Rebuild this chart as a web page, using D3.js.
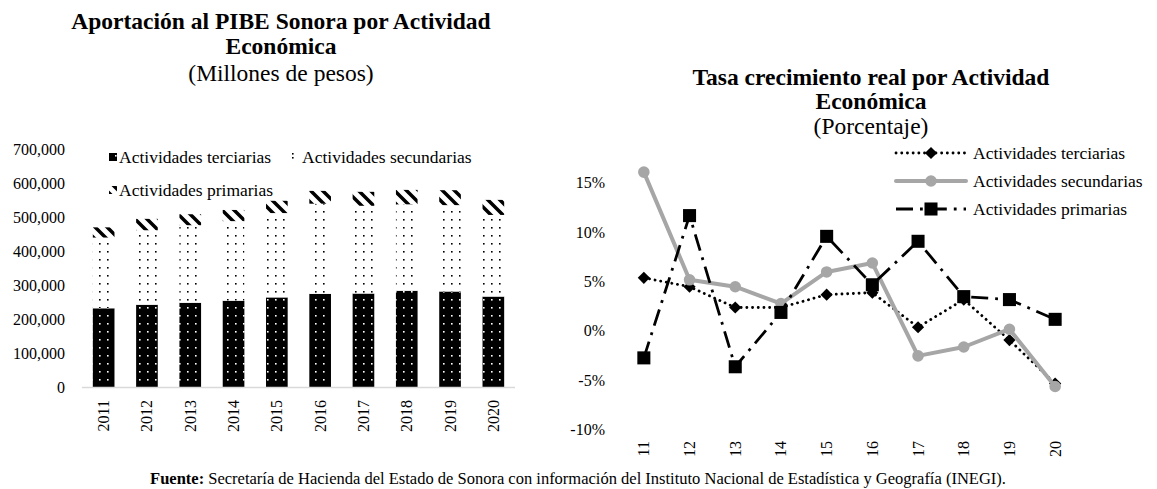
<!DOCTYPE html>
<html><head><meta charset="utf-8">
<script src="https://cdn.jsdelivr.net/npm/d3@7"></script>
<style>
body{margin:0;background:#fff;}
svg{font-family:"Liberation Serif","Times New Roman",serif;}
</style></head>
<body><svg id="c" width="1157" height="489"></svg>
<script>
// ---- data ----
const years = ["2011","2012","2013","2014","2015","2016","2017","2018","2019","2020"];
const terciarias  = [233000, 243500, 249300, 255300, 265000, 275600, 276400, 284700, 282400, 267500];
const secundarias = [208000, 219000, 228000, 234000, 248000, 265000, 258000, 254000, 254000, 240000];
const primarias   = [30000, 33500, 32300, 32900, 36100, 37700, 41100, 42500, 43900, 44300];
const leftTicks = [0,100000,200000,300000,400000,500000,600000,700000];

const shortYears = ["11","12","13","14","15","16","17","18","19","20"];
const gTerciarias  = [5.4, 4.5, 2.4, 2.4, 3.7, 3.9, 0.4, 3.2, -0.9, -5.3];
const gSecundarias = [16.1, 5.2, 4.5, 2.8, 6.0, 6.9, -2.5, -1.6, 0.2, -5.6];
const gPrimarias   = [-2.7, 11.7, -3.6, 1.9, 9.6, 4.7, 9.1, 3.5, 3.2, 1.2];
const rightTicks = [-10,-5,0,5,10,15];

const svg = d3.select("#c");
const defs = svg.append("defs");

// patterns
const pT = defs.append("pattern").attr("id","pT").attr("patternUnits","userSpaceOnUse").attr("width",8).attr("height",8);
pT.append("rect").attr("width",8).attr("height",8).attr("fill","#000");
pT.append("rect").attr("x",3).attr("y",3).attr("width",1.6).attr("height",1.6).attr("fill","#fff");
const pS = defs.append("pattern").attr("id","pS").attr("patternUnits","userSpaceOnUse").attr("width",8).attr("height",8);
pS.append("rect").attr("width",8).attr("height",8).attr("fill","#fff");
pS.append("rect").attr("x",3).attr("y",3).attr("width",1.6).attr("height",1.6).attr("fill","#000");
const pSl = defs.append("pattern").attr("id","pSl").attr("patternUnits","userSpaceOnUse").attr("width",8).attr("height",4);
pSl.append("rect").attr("width",8).attr("height",4).attr("fill","#fff");
pSl.append("rect").attr("x",4).attr("y",1).attr("width",1.6).attr("height",1.6).attr("fill","#000");
const pP = defs.append("pattern").attr("id","pP").attr("patternUnits","userSpaceOnUse").attr("width",12).attr("height",12);
pP.append("rect").attr("width",12).attr("height",12).attr("fill","#fff");
pP.append("path").attr("d","M-2,-2L14,14M-8,4L2,14M10,-2L14,2").attr("stroke","#000").attr("stroke-width",3.5);

// ---- Left chart ----
const xL = d3.scaleBand().domain(years).range([82,515]).paddingInner(0.5).paddingOuter(0.25);
const yL = d3.scaleLinear().domain([0,700000]).range([387.5,149.5]);

svg.append("g").selectAll("text").data(leftTicks).join("text")
  .attr("x",65).attr("y",d=>yL(d)).attr("dy","0.33em").attr("text-anchor","end")
  .attr("font-size",16).text(d=>d3.format(",")(d));

const stackData = years.map((y,i)=>({year:y, t:terciarias[i], s:secundarias[i], p:primarias[i]}));
const stack = d3.stack().keys(["t","s","p"])(stackData);
const fills = {t:"url(#pT)", s:"url(#pS)", p:"url(#pP)"};
const legFills = {t:"url(#pT)", s:"url(#pSl)", p:"url(#pP)"};
svg.append("g").selectAll("g").data(stack).join("g")
  .attr("fill",d=>fills[d.key])
  .selectAll("rect").data(d=>d).join("rect")
  .attr("x",d=>xL(d.data.year)).attr("width",xL.bandwidth())
  .attr("y",d=>yL(d[1])).attr("height",d=>yL(d[0])-yL(d[1]));

svg.append("line").attr("x1",82).attr("x2",515).attr("y1",387.5).attr("y2",387.5)
  .attr("stroke","#d9d9d9").attr("stroke-width",1.3);

svg.append("g").selectAll("text").data(years).join("text")
  .attr("transform",d=>`translate(${xL(d)+xL.bandwidth()/2+5.5},400) rotate(-90)`)
  .attr("text-anchor","end").attr("font-size",16).text(d=>d);

// left legend
const legL = [
  {k:"t", label:"Actividades terciarias", x:109, y:157},
  {k:"s", label:"Actividades secundarias", x:292, y:157},
  {k:"p", label:"Actividades primarias", x:109, y:190}
];
const gl = svg.append("g").selectAll("g").data(legL).join("g");
gl.append("rect").attr("x",d=>d.x).attr("y",d=>d.y-4).attr("width",8).attr("height",8).attr("fill",d=>legFills[d.k]);
gl.append("text").attr("x",d=>d.x+10).attr("y",d=>d.y).attr("dy","0.33em").attr("font-size",17.5).text(d=>d.label);

// left titles
svg.append("text").attr("x",281).attr("y",29).attr("text-anchor","middle").attr("font-weight","bold").attr("font-size",23.5).text("Aportación al PIBE Sonora por Actividad");
svg.append("text").attr("x",281).attr("y",54).attr("text-anchor","middle").attr("font-weight","bold").attr("font-size",23.5).text("Económica");
svg.append("text").attr("x",281).attr("y",81).attr("text-anchor","middle").attr("font-size",23.5).text("(Millones de pesos)");

// ---- Right chart ----
const xR = d3.scaleBand().domain(shortYears).range([621,1078]);
const yR = d3.scaleLinear().domain([-10,15]).range([430,183]);
const cx = d=>xR(d)+xR.bandwidth()/2;

svg.append("g").selectAll("text").data(rightTicks).join("text")
  .attr("x",605).attr("y",d=>yR(d)).attr("dy","0.33em").attr("text-anchor","end")
  .attr("font-size",16).text(d=>d+"%");

svg.append("g").selectAll("text").data(shortYears).join("text")
  .attr("transform",d=>`translate(${cx(d)+5.5},441) rotate(-90)`)
  .attr("text-anchor","end").attr("font-size",16).text(d=>d);

const line = d3.line().x((d,i)=>cx(shortYears[i])).y(d=>yR(d));

const series = [
  {vals:gTerciarias, stroke:"#000", w:2.8, dash:"0.1,5.6", cap:"round", marker:"diamond", mcolor:"#000", label:"Actividades terciarias"},
  {vals:gSecundarias, stroke:"#a6a6a6", w:4, dash:null, cap:"round", marker:"circle", mcolor:"#a6a6a6", label:"Actividades secundarias"},
  {vals:gPrimarias, stroke:"#000", w:2.8, dash:"17,7,2.8,7", cap:"butt", marker:"square", mcolor:"#000", label:"Actividades primarias"}
];
const sym = {diamond:d3.symbol().type(d3.symbolDiamond2).size(95),
             circle:d3.symbol().type(d3.symbolCircle).size(105),
             square:d3.symbol().type(d3.symbolSquare).size(170)};

series.forEach(s=>{
  const g = svg.append("g");
  g.append("path").datum(s.vals).attr("d",line).attr("fill","none")
    .attr("stroke",s.stroke).attr("stroke-width",s.w).attr("stroke-dasharray",s.dash)
    .attr("stroke-linecap",s.cap).attr("stroke-linejoin","round");
  g.selectAll("path.m").data(s.vals).join("path").attr("class","m")
    .attr("transform",(d,i)=>`translate(${cx(shortYears[i])},${yR(d)})`)
    .attr("d",sym[s.marker]).attr("fill",s.mcolor);
});

// right legend
const legR = [153,181,209];
series.forEach((s,i)=>{
  const y = legR[i];
  const g = svg.append("g");
  g.append("line").attr("x1",896).attr("x2",966).attr("y1",y).attr("y2",y)
    .attr("stroke",s.stroke).attr("stroke-width",s.w).attr("stroke-dasharray",s.dash).attr("stroke-linecap",s.cap);
  g.append("path").attr("transform",`translate(931,${y})`).attr("d",sym[s.marker]).attr("fill",s.mcolor);
  g.append("text").attr("x",973).attr("y",y).attr("dy","0.33em").attr("font-size",17.5).text(s.label);
});

// right titles
svg.append("text").attr("x",871).attr("y",85).attr("text-anchor","middle").attr("font-weight","bold").attr("font-size",23.5).text("Tasa crecimiento real por Actividad");
svg.append("text").attr("x",871).attr("y",109).attr("text-anchor","middle").attr("font-weight","bold").attr("font-size",23.5).text("Económica");
svg.append("text").attr("x",871).attr("y",134).attr("text-anchor","middle").attr("font-size",23.5).text("(Porcentaje)");

// source
const src = svg.append("text").attr("x",578).attr("y",484).attr("text-anchor","middle").attr("font-size",16.5);
src.append("tspan").attr("font-weight","bold").text("Fuente:");
src.append("tspan").text(" Secretaría de Hacienda del Estado de Sonora con información del Instituto Nacional de Estadística y Geografía (INEGI).");
</script></body></html>
